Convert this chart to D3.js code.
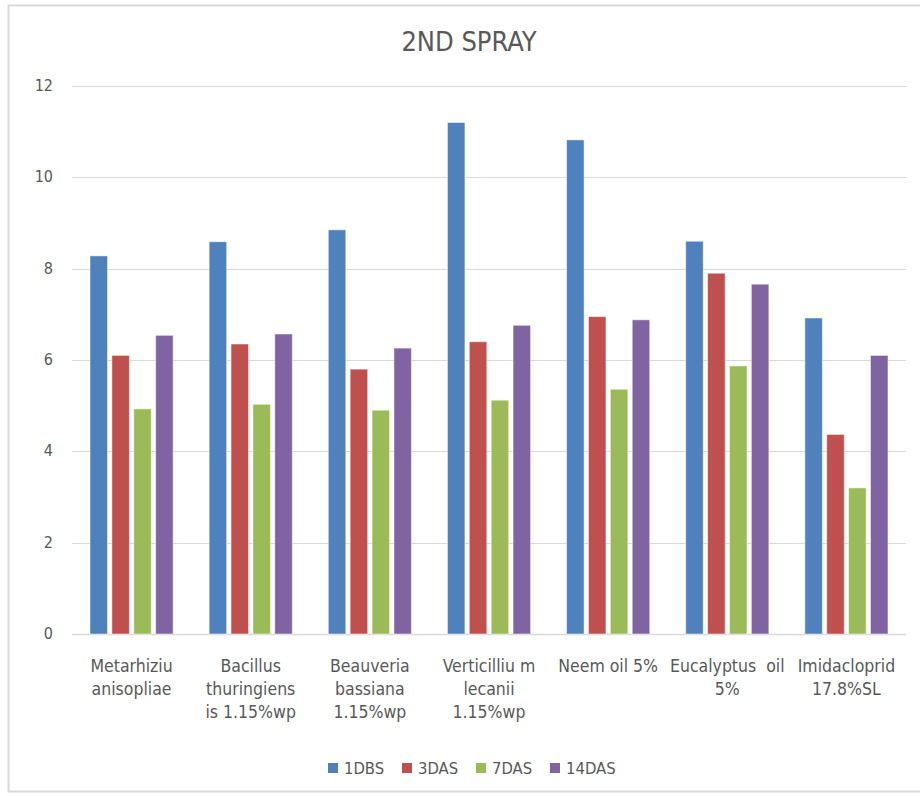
<!DOCTYPE html>
<html>
<head>
<meta charset="utf-8">
<script src="https://cdn.jsdelivr.net/npm/d3@7"></script>
<style>
  body { margin: 0; background: #fff; }
  text { font-family: 'Liberation Sans Narrow', 'DejaVu Sans Condensed', 'Noto Sans', sans-serif; fill: #595959; }
  .cat { white-space: pre; }
</style>
</head>
<body>
<script>
// chart values
const categories = [
  ['Metarhiziu', 'anisopliae'],
  ['Bacillus', 'thuringiens', 'is 1.15%wp'],
  ['Beauveria', 'bassiana', '1.15%wp'],
  ['Verticilliu m', 'lecanii', '1.15%wp'],
  ['Neem oil 5%'],
  ['Eucalyptus  oil', '5%'],
  ['Imidacloprid', '17.8%SL']
]
const seriesNames = ['1DBS', '3DAS', '7DAS', '14DAS']
const dbs1 = [8.28, 8.59, 8.85, 11.2, 10.82, 8.6, 6.92]
const das3 = [6.1, 6.35, 5.8, 6.4, 6.95, 7.9, 4.37]
const das7 = [4.93, 5.03, 4.9, 5.12, 5.36, 5.87, 3.2]
const das14 = [6.54, 6.57, 6.26, 6.76, 6.88, 7.66, 6.1]
const yTicks = [0, 2, 4, 6, 8, 10, 12]
const colors = ['#4F81BD', '#C0504D', '#9BBB59', '#8064A2']

const width = 920,
  height = 796,
  margin = { top: 86, bottom: 162, left: 72, right: 14 }
const allSeries = [dbs1, das3, das7, das14]

const svg = d3.select('body').append('svg')
  .attr('width', width)
  .attr('height', height)

// chart border
svg.append('rect')
  .attr('x', 8.5).attr('y', 5.5)
  .attr('width', width + 10).attr('height', height - 10)
  .attr('fill', 'none')
  .attr('stroke', '#D9D9D9')
  .attr('stroke-width', 2)

svg.append('text')
  .text('2ND SPRAY')
  .attr('x', 469).attr('y', 51)
  .attr('text-anchor', 'middle')
  .attr('font-size', 27)

const yScale = d3.scaleLinear()
  .domain([0, 12])
  .range([height - margin.bottom, margin.top])

const x0 = d3.scaleBand()
  .domain(d3.range(categories.length))
  .range([margin.left, width - margin.right])

const x1 = d3.scaleBand()
  .domain(seriesNames)
  .range([18, x0.bandwidth() - 18])
  .paddingInner(0.2)

// gridlines
svg.append('g')
  .selectAll('line')
  .data(yTicks)
  .enter()
  .append('line')
  .attr('x1', margin.left)
  .attr('x2', width - margin.right)
  .attr('y1', (d) => Math.round(yScale(d)) + 0.5)
  .attr('y2', (d) => Math.round(yScale(d)) + 0.5)
  .attr('stroke', '#D9D9D9')
  .attr('stroke-width', (d) => (d === 0 ? 1.5 : 1))

// y axis labels
svg.append('g')
  .selectAll('text')
  .data(yTicks)
  .enter()
  .append('text')
  .text((d) => d)
  .attr('x', 53)
  .attr('y', (d) => yScale(d) + 5)
  .attr('text-anchor', 'end')
  .attr('font-size', 16)

// bars
const groups = svg.append('g')
  .selectAll('g')
  .data(categories)
  .enter()
  .append('g')
  .attr('transform', (d, i) => `translate(${x0(i)},0)`)

groups.selectAll('rect')
  .data((d, i) => seriesNames.map((s, j) => ({ s: s, v: allSeries[j][i], c: colors[j] })))
  .enter()
  .append('rect')
  .attr('x', (d) => x1(d.s))
  .attr('width', x1.bandwidth())
  .attr('y', (d) => yScale(d.v))
  .attr('height', (d) => yScale(0) - yScale(d.v))
  .attr('fill', (d) => d.c)
  .attr('stroke', '#fff')
  .attr('stroke-opacity', 0.5)
  .attr('stroke-width', 1)

// category labels
const labels = svg.append('g')
  .selectAll('text')
  .data(categories)
  .enter()
  .append('text')
  .classed('cat', true)
  .attr('text-anchor', 'middle')
  .attr('font-size', 17.5)
  .attr('transform', (d, i) => `translate(${x0(i) + x0.bandwidth() / 2},672)`)

labels.selectAll('tspan')
  .data((d) => d)
  .enter()
  .append('tspan')
  .attr('x', 0)
  .attr('dy', (d, i) => (i === 0 ? 0 : 23))
  .text((d) => d)

// legend
const legendX = [328, 402, 476, 550]
const legend = svg.append('g')
  .selectAll('g')
  .data(seriesNames)
  .enter()
  .append('g')
  .attr('transform', (d, i) => `translate(${legendX[i]},763)`)

legend.append('rect')
  .attr('width', 10).attr('height', 10)
  .attr('fill', (d, i) => colors[i])

legend.append('text')
  .text((d) => d)
  .attr('x', 16).attr('y', 10.5)
  .attr('font-size', 16.5)
</script>
</body>
</html>
